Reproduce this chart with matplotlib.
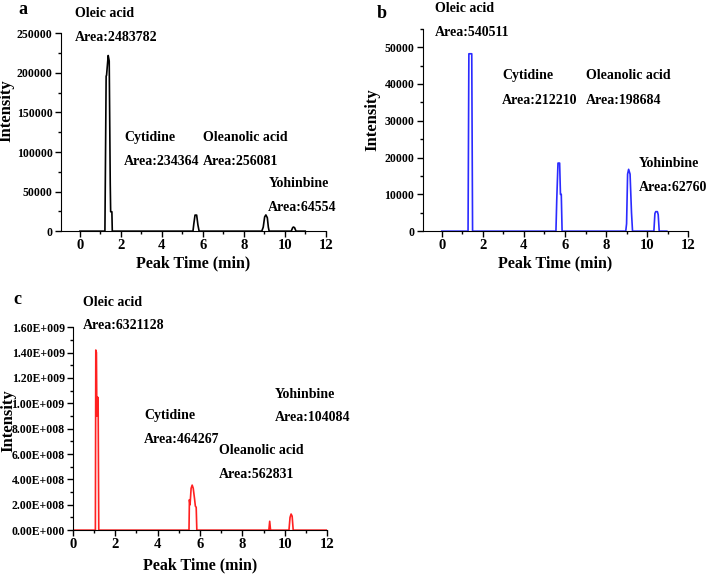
import matplotlib
matplotlib.use("Agg")
import matplotlib.pyplot as plt
from matplotlib.ticker import MultipleLocator, FuncFormatter

# chromatogram traces (time in min, intensity)
time_a = [0, 1.22, 1.28, 1.30, 1.38, 1.43, 1.48, 1.50, 1.56, 1.58,
          5.52, 5.56, 5.62, 5.70, 5.76, 5.82,
          8.88, 8.95, 9.02, 9.08, 9.15, 9.20, 9.24,
          10.32, 10.38, 10.42, 10.48, 10.55, 11.0]
int_a = [0, 0, 196000, 197000, 222000, 215000, 60000, 24500, 24500, 0,
         0, 9000, 20300, 20300, 8000, 0,
         0, 5000, 18000, 20500, 17000, 5000, 0,
         0, 4000, 5200, 4500, 0, 0]

time_b = [0, 1.28, 1.32, 1.46, 1.50,
          5.56, 5.60, 5.66, 5.74, 5.78, 5.82, 5.86,
          8.96, 9.00, 9.05, 9.10, 9.17, 9.24, 9.29,
          10.33, 10.38, 10.42, 10.50, 10.54, 10.59, 10.96]
int_b = [0, 0, 48200, 48200, 0,
         0, 8600, 18500, 18500, 10000, 10000, 0,
         0, 2000, 15500, 16800, 15500, 5000, 0,
         0, 4800, 5300, 5300, 4500, 0, 0]

time_c = [0, 1.06, 1.08, 1.11, 1.13, 1.16, 1.19, 1.22,
          5.48, 5.50, 5.53, 5.58, 5.63, 5.68, 5.74, 5.78, 5.82, 5.85,
          9.25, 9.29, 9.33,
          10.20, 10.25, 10.30, 10.35, 10.40, 12.0]
int_c = [0, 0, 1.42e9, 1.40e9, 0.90e9, 1.05e9, 1.04e9, 0,
         0, 0.24e9, 0.20e9, 0.33e9, 0.355e9, 0.33e9, 0.25e9, 0.19e9, 0.18e9, 0,
         0, 0.07e9, 0,
         0, 0.10e9, 0.127e9, 0.11e9, 0, 0]

compounds = ["Oleic acid", "Cytidine", "Oleanolic acid", "Yohinbine"]
areas_a = [2483782, 234364, 256081, 64554]
areas_b = [540511, 212210, 198684, 62760]
areas_c = [6321128, 464267, 562831, 104084]

FONT = "Liberation Serif"


def sci_fmt(v, pos):
    if v == 0:
        return "0.00E+000"
    exp = 0
    m = abs(v)
    while m >= 10:
        m /= 10
        exp += 1
    return "%.2fE+%03d" % (m, exp)


def style_axes(ax, xmin, ymax, ymajor, yminor, ylab_xy, xpad=2):
    for s in ["top", "right"]:
        ax.spines[s].set_visible(False)
    ax.set_xlim(xmin, 12)
    ax.set_ylim(0, ymax)
    ax.xaxis.set_major_locator(MultipleLocator(2))
    ax.xaxis.set_minor_locator(MultipleLocator(1))
    ax.yaxis.set_major_locator(MultipleLocator(ymajor))
    ax.yaxis.set_minor_locator(MultipleLocator(yminor))
    ax.tick_params(which="major", length=4, width=1, pad=2)
    ax.tick_params(which="minor", length=2.5, width=1)
    ax.tick_params(axis="x", labelsize=10.5)
    ax.tick_params(axis="y", labelsize=8.5)
    ax.set_xlabel("Peak Time (min)", fontfamily=FONT, fontweight="bold",
                  fontsize=11.5, labelpad=xpad)
    ax.set_ylabel("Intensity", fontfamily=FONT, fontweight="bold",
                  fontsize=12)
    ax.yaxis.set_label_coords(*ylab_xy)


def bold_ticks(ax):
    for lab in ax.get_xticklabels() + ax.get_yticklabels():
        lab.set_fontfamily(FONT)
        lab.set_fontweight("bold")


def annotate(ax, positions, areas, dy):
    for (x, y), name, area in zip(positions, compounds, areas):
        ax.text(x, y, name, fontfamily=FONT, fontweight="bold", fontsize=10,
                va="center", ha="left", clip_on=False)
        ax.text(x, y - dy, "Area:%d" % area, fontfamily=FONT,
                fontweight="bold", fontsize=10, va="center", ha="left",
                clip_on=False)


fig = plt.figure(figsize=(7.08, 5.75), dpi=100)

ax_a = fig.add_axes([0.086, 0.598, 0.374, 0.344])
ax_a.plot(time_a, int_a, color="black", lw=1.2)
style_axes(ax_a, -0.93, 250000, 50000, 25000, (-0.175, 0.61))
bold_ticks(ax_a)
annotate(ax_a, [(-0.24, 274500), (2.15, 118600), (6.0, 118600), (9.2, 59700)],
         areas_a, 30000)

ax_b = fig.add_axes([0.597, 0.598, 0.375, 0.352])
ax_b.plot(time_b, int_b, color="#2b2bff", lw=1.2)
style_axes(ax_b, -0.93, 55000, 10000, 5000, (-0.16, 0.55))
bold_ticks(ax_b)
annotate(ax_b, [(-0.34, 60600), (2.94, 42200), (7.04, 42200), (9.58, 18400)],
         areas_b, 6600)

ax_c = fig.add_axes([0.103, 0.078, 0.359, 0.353])
ax_c.plot(time_c, int_c, color="#ff2020", lw=1.2)
style_axes(ax_c, 0, 1.6e9, 0.2e9, 0.1e9, (-0.222, 0.54), xpad=4)
ax_c.yaxis.set_major_formatter(FuncFormatter(sci_fmt))
bold_ticks(ax_c)
annotate(ax_c, [(0.46, 1.794e9), (3.37, 0.902e9), (6.9, 0.624e9), (9.54, 1.071e9)],
         areas_c, 0.184e9)

fig.text(23 / 708, 1 - 10 / 575, "a", fontfamily=FONT, fontweight="bold",
         fontsize=13, ha="center", va="center")
fig.text(382 / 708, 1 - 14 / 575, "b", fontfamily=FONT, fontweight="bold",
         fontsize=13, ha="center", va="center")
fig.text(17 / 708, 1 - 300 / 575, "c", fontfamily=FONT, fontweight="bold",
         fontsize=13, ha="center", va="center")

fig.savefig("out.png", dpi=100)
